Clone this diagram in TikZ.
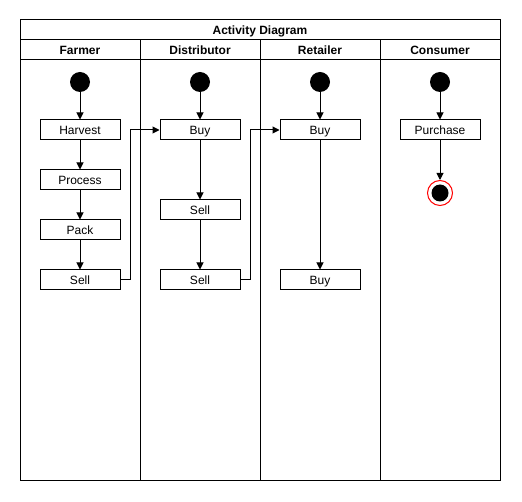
\documentclass[tikz,border=0pt]{standalone}
\usepackage{fontspec}
\setmainfont{Liberation Sans}
\usetikzlibrary{arrows.meta}
\begin{document}
\begin{tikzpicture}[x=1pt,y=-1pt,line width=1pt,
  txt/.style={text height=10pt,text depth=1.4pt},
  lane/.style={draw,txt,minimum width=120pt,minimum height=20pt,inner sep=0pt,font=\bfseries\fontsize{12}{14}\selectfont},
  act/.style={draw,txt,minimum width=80pt,minimum height=20pt,inner sep=0pt,font=\fontsize{12}{14}\selectfont},
  start/.style={circle,fill=black,minimum size=20pt,inner sep=0pt},
  flow/.style={-{Triangle[length=7pt,width=7pt]}}]
\useasboundingbox (0,0) rectangle (522,502);
% frame and swimlanes
\draw (20,20) rectangle (500,480);
\node[draw,txt,minimum width=480pt,minimum height=20pt,inner sep=0pt,font=\bfseries\fontsize{12}{14}\selectfont] (title) at (260,30) {Activity Diagram};
\node[lane] (farmer) at (80,50) {Farmer};
\node[lane] (distributor) at (200,50) {Distributor};
\node[lane] (retailer) at (320,50) {Retailer};
\node[lane] (consumer) at (440,50) {Consumer};
\draw (140,60) -- (140,480);
\draw (260,60) -- (260,480);
\draw (380,60) -- (380,480);
% start nodes
\node[start] (s1) at (80,82) {};
\node[start] (s2) at (200,82) {};
\node[start] (s3) at (320,82) {};
\node[start] (s4) at (440,82) {};
% activities
\node[act] (harvest) at (80,130) {Harvest};
\node[act] (process) at (80,180) {Process};
\node[act] (pack) at (80,230) {Pack};
\node[act] (fsell) at (80,280) {Sell};
\node[act] (dbuy) at (200,130) {Buy};
\node[act] (dsell1) at (200,210) {Sell};
\node[act] (dsell2) at (200,280) {Sell};
\node[act] (rbuy1) at (320,130) {Buy};
\node[act] (rbuy2) at (320,280) {Buy};
\node[act] (purchase) at (440,130) {Purchase};
% final node
\node[circle,draw=red,fill=white,line width=1pt,minimum size=25pt,inner sep=0pt] (final) at (440,193) {};
\node[circle,fill=black,minimum size=17pt,inner sep=0pt] at (final) {};
% flows
\draw[flow] (s1) -- (harvest);
\draw[flow] (harvest) -- (process);
\draw[flow] (process) -- (pack);
\draw[flow] (pack) -- (fsell);
\draw[flow] (fsell.east) -- ++(10,0) |- (dbuy.west);
\draw[flow] (s2) -- (dbuy);
\draw[flow] (dbuy) -- (dsell1);
\draw[flow] (dsell1) -- (dsell2);
\draw[flow] (dsell2.east) -- ++(10,0) |- (rbuy1.west);
\draw[flow] (s3) -- (rbuy1);
\draw[flow] (rbuy1) -- (rbuy2);
\draw[flow] (s4) -- (purchase);
\draw[flow] (purchase) -- (final);
\end{tikzpicture}
\end{document}
